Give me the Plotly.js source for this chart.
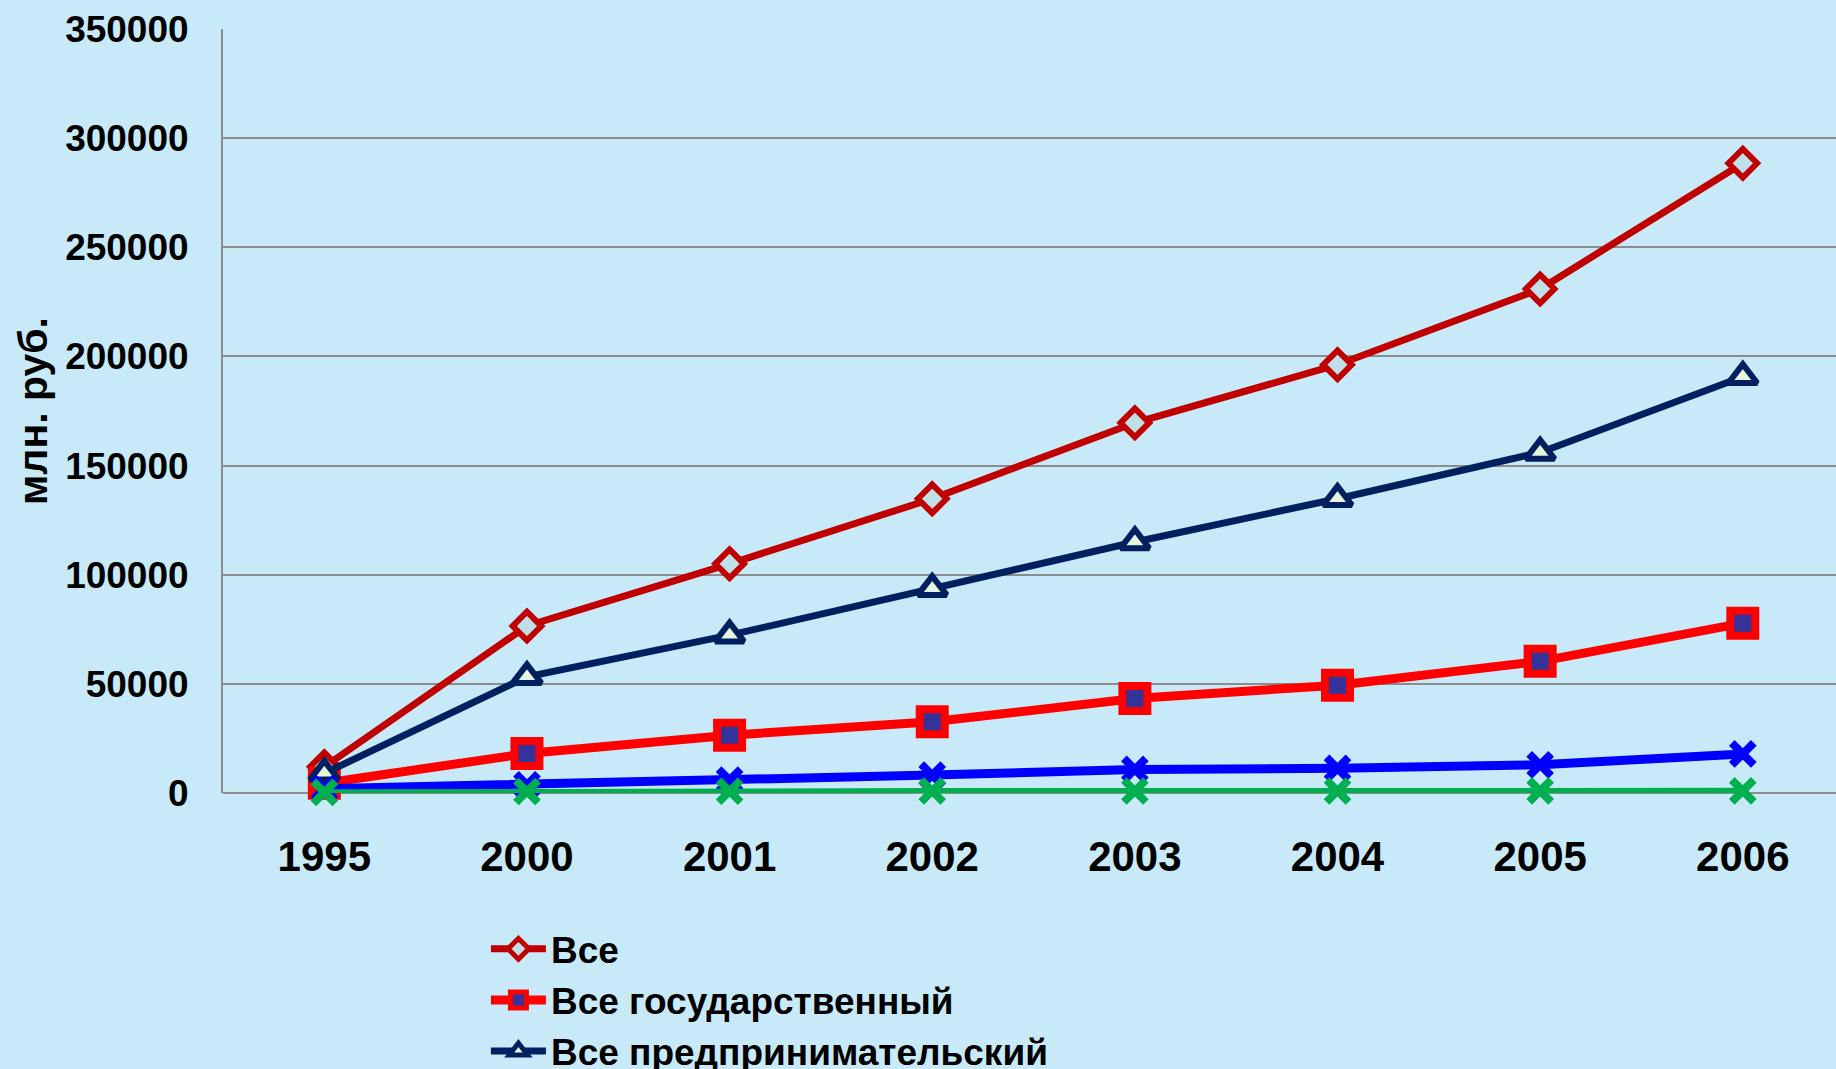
<!DOCTYPE html>
<html><head><meta charset="utf-8">
<script src="https://cdn.plot.ly/plotly-3.0.1.min.js"></script>
<style>
html,body{margin:0;padding:0;background:#c8eaf8;overflow:hidden}
#chart{width:1836px;height:1069px}
</style>
</head><body><div id="chart"></div>
<script>
const years = ['1995','2000','2001','2002','2003','2004','2005','2006'];
const seriesNames = ['Все','Все государственный','Все предпринимательский','Все высшего профессионального образования','Все некоммерческий'];
const vse = [12000, 76500, 105000, 134800, 169600, 196200, 230900, 288500];
const gos = [4500, 18100, 26500, 32600, 43300, 49400, 60300, 77800];
const predpr = [9000, 53200, 72300, 93600, 115000, 134800, 156000, 190700];
const vuz = [2000, 3800, 5900, 8200, 10800, 11300, 12900, 17900];
const nekom = [300, 700, 800, 900, 900, 900, 1000, 1000];
const yTicks = [0, 50000, 100000, 150000, 200000, 250000, 300000, 350000];

const FONT = 'Liberation Sans, Arial, sans-serif';

const traces = [
  {x: years, y: vse, name: seriesNames[0], mode: 'lines+markers', type: 'scatter', cliponaxis: false,
   line: {color: '#C00000', width: 7},
   marker: {symbol: 'diamond', size: 22, color: '#BFE0E6', line: {color: '#C00000', width: 6}}},
  {x: years, y: gos, name: seriesNames[1], mode: 'lines+markers', type: 'scatter', cliponaxis: false,
   line: {color: '#FF0000', width: 9},
   marker: {symbol: 'square', size: 25, color: '#333399', line: {color: '#FF0000', width: 8}}},
  {x: years, y: predpr, name: seriesNames[2], mode: 'lines+markers', type: 'scatter', cliponaxis: false,
   line: {color: '#002060', width: 7},
   marker: {symbol: 'triangle-up', size: 25, color: '#E6F5DE', line: {color: '#002060', width: 6}}},
  {x: years, y: vuz, name: seriesNames[3], mode: 'lines+markers', type: 'scatter', cliponaxis: false,
   line: {color: '#0000FF', width: 9},
   marker: {symbol: 'x-thin', size: 22, color: '#0000FF', line: {color: '#0000FF', width: 8}}},
  {x: years, y: nekom, name: seriesNames[4], mode: 'lines+markers', type: 'scatter', cliponaxis: false,
   line: {color: '#00B050', width: 6},
   marker: {symbol: 'x-thin', size: 22, color: '#00B050', line: {color: '#00B050', width: 8}}}
];

const layout = {
  width: 1836, height: 1069,
  margin: {l: 223, r: 0, t: 29, b: 276, autoexpand: false},
  paper_bgcolor: '#c8eaf8',
  plot_bgcolor: '#c8eaf8',
  font: {family: FONT, color: '#000'},
  showlegend: true,
  legend: {
    x: 0.163, y: -0.164, xanchor: 'left', yanchor: 'top',
    xref: 'paper', yref: 'paper',
    bgcolor: 'rgba(0,0,0,0)', borderwidth: 0,
    itemwidth: 55,
    font: {family: FONT, size: 37, weight: 'bold', color: '#000'}
  },
  xaxis: {
    type: 'category', range: [-0.5, 7.46],
    showgrid: false, zeroline: false, showline: false,
    ticks: '', ticklabelstandoff: 35,
    tickfont: {family: FONT, size: 42, weight: 'bold', color: '#000'},
    fixedrange: true
  },
  yaxis: {
    range: [0, 350000], tickvals: yTicks, tickformat: 'd',
    showgrid: true, gridcolor: '#8C8C8C', gridwidth: 2,
    zeroline: true, zerolinecolor: '#8C8C8C', zerolinewidth: 2,
    showline: true, linecolor: '#8C8C8C', linewidth: 2,
    ticks: '', ticklabelstandoff: 25,
    tickfont: {family: FONT, size: 37, weight: 'bold', color: '#000'},
    title: {text: 'млн. руб.', font: {family: FONT, size: 41, weight: 'bold', color: '#000'}, standoff: 5},
    fixedrange: true
  }
};

Plotly.newPlot('chart', traces, layout, {displayModeBar: false, staticPlot: true});
</script>
</body></html>
